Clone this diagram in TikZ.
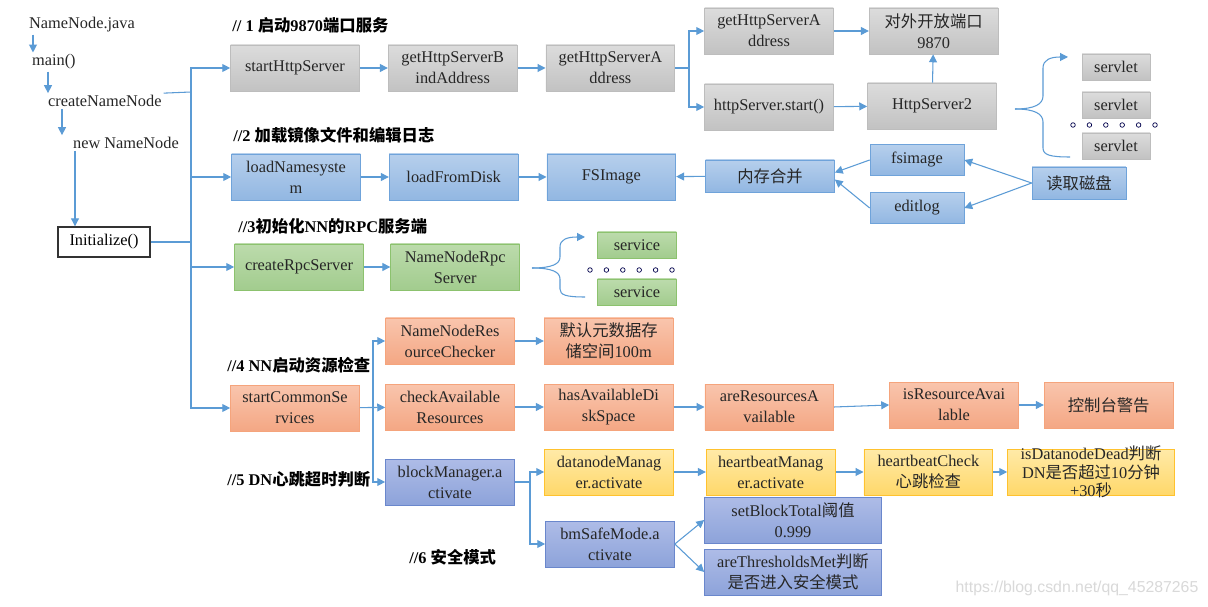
\documentclass[tikz,border=0pt]{standalone}
\usepackage{fontspec}
\setmainfont{Liberation Serif}
\newfontfamily\cjk{Noto Sans CJK SC}
\newfontfamily\wmfont{Liberation Sans}
\usetikzlibrary{arrows.meta, positioning}
\newcommand{\zh}[1]{{\cjk #1}}
\definecolor{arrowblue}{HTML}{5B9BD5}
\definecolor{grayt}{HTML}{DCDCDC}
\definecolor{grayb}{HTML}{C2C2C2}
\definecolor{grayd}{HTML}{BDBDBD}
\definecolor{bluet}{HTML}{B6CFEC}
\definecolor{blueb}{HTML}{92B7E2}
\definecolor{blued}{HTML}{6FA3DA}
\definecolor{greent}{HTML}{BCDBAC}
\definecolor{greenb}{HTML}{A2CC8E}
\definecolor{greend}{HTML}{8CC26E}
\definecolor{oranget}{HTML}{F9C5AD}
\definecolor{orangeb}{HTML}{F4A784}
\definecolor{oranged}{HTML}{F5A47C}
\definecolor{yellowt}{HTML}{FFEAA8}
\definecolor{yellowb}{HTML}{FFD86A}
\definecolor{yellowd}{HTML}{FFC22E}
\definecolor{navyt}{HTML}{AEBCE7}
\definecolor{navyb}{HTML}{8DA3DA}
\definecolor{navyd}{HTML}{6A87CC}
\tikzset{
    box/.style={draw, align=center, minimum width=2.58cm, minimum height=0.92cm, inner sep=1pt, text=black!85},
    graybox/.style={box, draw=grayd, top color=grayt, bottom color=grayb},
    bluebox/.style={box, draw=blued, top color=bluet, bottom color=blueb},
    greenbox/.style={box, draw=greend, top color=greent, bottom color=greenb},
    orangebox/.style={box, draw=oranged, top color=oranget, bottom color=orangeb},
    yellowbox/.style={box, draw=yellowd, top color=yellowt, bottom color=yellowb},
    navybox/.style={box, draw=navyd, top color=navyt, bottom color=navyb},
    smallbox/.style={minimum height=0.52cm},
    initbox/.style={draw=black!80, line width=0.8pt, fill=white, minimum width=1.84cm, minimum height=0.6cm, inner sep=1pt},
    plain/.style={anchor=west, inner sep=1pt, text=black!85},
    heading/.style={anchor=west, inner sep=0pt, font=\fontsize{9.3}{11}\selectfont\bfseries},
    arr/.style={draw=arrowblue, line width=0.6pt, -{Triangle[length=4.5pt, width=4.5pt]}},
    link/.style={draw=arrowblue, line width=0.6pt},
    dotc/.style={draw=black!70!blue, fill=white, line width=0.4pt},
}
\begin{document}
\begin{tikzpicture}[x=0.02cm, y=-0.02cm, every node/.style={font=\fontsize{9.3}{11.9}\selectfont}]
    \fill[white] (0,0) rectangle (1208,607);
    \useasboundingbox (0,0) rectangle (1208,607);

    % call chain on the left
    \node[plain] (java) at (27,25) {NameNode.java};
    \node[plain] (mainf) at (30,62) {main()};
    \node[plain] (cnn) at (46,101) {createNameNode};
    \node[plain] (newnn) at (71,143) {new NameNode};
    \node[initbox] (init) at (104,242) {Initialize()};

    \draw[arr] ([xshift=0.12cm]java.south west) -- ([xshift=0.12cm]java.south west |- mainf.north);
    \draw[arr] ([xshift=0.36cm]mainf.south west) -- ([xshift=0.36cm]mainf.south west |- cnn.north);
    \draw[arr] ([xshift=0.32cm]cnn.south west) -- ([xshift=0.32cm]cnn.south west |- newnn.north);
    \draw[arr] ([xshift=0.08cm]newnn.south west) -- ([xshift=0.08cm]newnn.south west |- init.north);

    % headings
    \node[heading] (h1) at (232,25) {// 1 \zh{启动}9870\zh{端口服务}};
    \node[heading] (h2) at (233,135) {//2 \zh{加载镜像文件和编辑日志}};
    \node[heading] (h3) at (238,226) {//3\zh{初始化}NN\zh{的}RPC\zh{服务端}};
    \node[heading] (h4) at (227,365) {//4 NN\zh{启动资源检查}};
    \node[heading] (h5) at (227,479) {//5 DN\zh{心跳超时判断}};
    \node[heading] (h6) at (409,557) {//6 \zh{安全模式}};

    % 1 http server
    \node[graybox] (http) at (295,68) {startHttpServer};
    \node[graybox, right=0.56cm of http] (bind) {getHttpServerB\\indAddress};
    \node[graybox, right=0.56cm of bind] (addr) {getHttpServerA\\ddress};
    \node[graybox] (addr2) at (769,31) {getHttpServerA\\ddress};
    \node[graybox] (start) at (769,107) {httpServer.start()};
    \node[graybox, right=0.7cm of addr2] (port) {\zh{对外开放端口}\\9870};
    \node[graybox] (hs2) at (932,106) {HttpServer2};
    \node[graybox, smallbox, minimum width=1.36cm] (sv1) at (1116,67) {servlet};
    \node[graybox, smallbox, minimum width=1.36cm] (sv2) at (1116,105) {servlet};
    \node[graybox, smallbox, minimum width=1.36cm] (sv3) at (1116,146) {servlet};

    % 2 namesystem
    \node[bluebox] (loadns) at (296,177) {loadNamesyste\\m};
    \node[bluebox, right=0.56cm of loadns] (lfd) {loadFromDisk};
    \node[bluebox, right=0.56cm of lfd] (fsimg) {FSImage};
    \node[bluebox, minimum height=0.64cm] (merge) at (770,176) {\zh{内存合并}};
    \node[bluebox, minimum width=1.88cm, minimum height=0.62cm] (fsi) at (917,160) {fsimage};
    \node[bluebox, minimum width=1.88cm, minimum height=0.62cm] (edl) at (917,208) {editlog};
    \node[bluebox, minimum width=1.88cm, minimum height=0.64cm] (disk) at (1079,183) {\zh{读取磁盘}};

    % 3 rpc server
    \node[greenbox] (rpc) at (299,267) {createRpcServer};
    \node[greenbox, right=0.53cm of rpc] (rpcs) {NameNodeRpc\\Server};
    \node[greenbox, smallbox, minimum width=1.58cm] (svc1) at (637,245) {service};
    \node[greenbox, smallbox, minimum width=1.58cm] (svc2) at (637,292) {service};

    % 4 resource check
    \node[orangebox] (common) at (295,408) {startCommonSe\\rvices};
    \node[orangebox] (nnrc) at (450,341) {NameNodeRes\\ourceChecker};
    \node[orangebox, right=0.58cm of nnrc] (dflt) {\zh{默认元数据存}\\\zh{储空间}100m};
    \node[orangebox] (car) at (450,407) {checkAvailable\\Resources};
    \node[orangebox, right=0.58cm of car] (hads) {hasAvailableDi\\skSpace};
    \node[orangebox, right=0.62cm of hads] (arav) {areResourcesA\\vailable};
    \node[orangebox] (isra) at (954,405) {isResourceAvai\\lable};
    \node[orangebox, right=0.5cm of isra] (warn) {\zh{控制台警告}};

    % 5 heartbeat
    \node[navybox] (bma) at (450,482) {blockManager.a\\ctivate};
    \node[yellowbox] (dnm) at (609,472) {datanodeManag\\er.activate};
    \node[yellowbox, right=0.64cm of dnm] (hbm) {heartbeatManag\\er.activate};
    \node[yellowbox, right=0.56cm of hbm] (hbc) {heartbeatCheck\\\zh{心跳检查}};
    \node[yellowbox, minimum width=3.34cm, right=0.28cm of hbc,
      label={[align=center, text=black!85, font=\fontsize{9.3}{10.5}\selectfont]center:{isDatanodeDead\zh{判断}\\DN\zh{是否超过}10\zh{分钟}\\+30\zh{秒}}}] (idd) {};

    % 6 safe mode
    \node[navybox] (bsm) at (610,544) {bmSafeMode.a\\ctivate};
    \node[navybox, minimum width=3.54cm] (sbt) at (793,520) {setBlockTotal\zh{阈值}\\0.999};
    \node[navybox, minimum width=3.54cm] (atm) at (793,572) {areThresholdsMet\zh{判断}\\\zh{是否进入安全模式}};

    % main bus
    \coordinate (busA) at (191,92);
    \coordinate (busB) at (191,242);
    \draw[link] (cnn.north east) -- (busA);
    \draw[arr] (busA) |- (http.west);
    \draw[arr] (busA) |- (loadns.west);
    \draw[link] (busA) -- (busB);
    \draw[link] (init.east) -- (busB);
    \draw[arr] (busB) |- (rpc.west);
    \draw[arr] (busB) |- (common.west);

    % row 1
    \coordinate (bus1) at (689,68);
    \draw[arr] (http) -- (bind);
    \draw[arr] (bind) -- (addr);
    \draw[link] (addr.east) -- (bus1);
    \draw[arr] (bus1) |- (addr2.west);
    \draw[arr] (bus1) |- (start.west);
    \draw[arr] (addr2) -- (port);
    \draw[arr] (start) -- (hs2);
    \draw[arr] (hs2) -- (port);
    \coordinate (stip) at (1015,109);
    \coordinate (stop) at (1068,57);
    \coordinate (sbot) at (1070,157);
    \draw[arr] (stip) .. controls (1035,109) and (1043,104) .. (1043,96) -- (1043,68) .. controls (1043,60) and (1050,57) .. (stop);
    \draw[link] (stip) .. controls (1035,109) and (1043,114) .. (1043,122) -- (1043,148) .. controls (1043,155) and (1050,157) .. (sbot);
    \foreach \i in {0,...,5}
      \draw[dotc] (1073+16.4*\i,125) circle[radius=1.3pt];

    % row 2
    \draw[arr] (loadns) -- (lfd);
    \draw[arr] (lfd) -- (fsimg);
    \draw[arr] (merge) -- (fsimg);
    \draw[arr] (fsi.west) -- ([yshift=0.07cm]merge.east);
    \draw[arr] (edl.west) -- ([yshift=-0.07cm]merge.east);
    \draw[arr] (disk.west) -- (fsi.east);
    \draw[arr] (disk.west) -- (edl.east);

    % row 3
    \draw[arr] (rpc) -- (rpcs);
    \coordinate (rtip) at (532,268);
    \coordinate (rtop) at (585,237);
    \coordinate (rbot) at (585,297);
    \draw[arr] (rtip) .. controls (552,268) and (560,264) .. (560,257) -- (560,247) .. controls (560,240) and (566,237) .. (rtop);
    \draw[link] (rtip) .. controls (552,268) and (560,272) .. (560,279) -- (560,289) .. controls (560,295) and (566,297) .. (rbot);
    \foreach \i in {0,...,5}
      \draw[dotc] (590+16.4*\i,270) circle[radius=1.3pt];

    % row 4
    \coordinate (bus4) at (373,408);
    \draw[arr] (common) -- (car);
    \draw[arr] (bus4) |- (nnrc.west);
    \draw[arr] (bus4) |- (bma.west);
    \draw[arr] (nnrc) -- (dflt);
    \draw[arr] (car) -- (hads);
    \draw[arr] (hads) -- (arav);
    \draw[arr] (arav.east) -- (isra.west);
    \draw[arr] (isra) -- (warn);

    % row 5 and 6
    \coordinate (bus5) at (530,482);
    \draw[link] (bma.east) -- (bus5);
    \draw[arr] (bus5) |- (dnm.west);
    \draw[arr] (bus5) |- (bsm.west);
    \draw[arr] (dnm) -- (hbm);
    \draw[arr] (hbm) -- (hbc);
    \draw[arr] (hbc) -- (idd);
    \draw[arr] (bsm.east) -- (sbt.west);
    \draw[arr] (bsm.east) -- (atm.west);

    \node[text=black!15, font=\wmfont\fontsize{9}{11}\selectfont] (mark) at (1077,588) {https://blog.csdn.net/qq\_45287265};
\end{tikzpicture}
\end{document}
